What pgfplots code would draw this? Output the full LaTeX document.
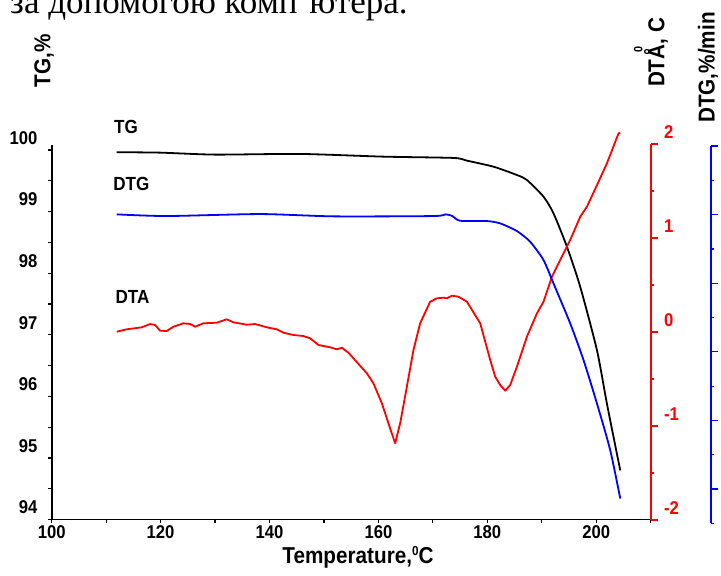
\documentclass[border=0pt]{standalone}
\usepackage{pgfplots}
\pgfplotsset{compat=1.18}
\usepackage{fontspec}
\setmainfont{Liberation Sans}
\newfontfamily\lab[FakeStretch=0.9]{Liberation Sans}
\newfontfamily\ser{Liberation Serif}
\newcommand\tickfont{\lab\bfseries\fontsize{18.5}{18.5}\selectfont}
\newcommand\labfont{\lab\bfseries\fontsize{23}{23}\selectfont}
\newcommand\curvefont{\lab\bfseries\fontsize{19}{19}\selectfont}

\pgfplotstableread{
x y
111.94 99.963
119.90 99.956
130.00 99.924
145.62 99.935
160.92 99.891
173.78 99.870
176.24 99.826
181.13 99.728
185.43 99.593
187.27 99.512
190.32 99.241
192.15 98.971
194.62 98.428
197.06 97.777
200.13 96.748
201.96 95.881
204.41 94.797
}\tgdata

\pgfplotstableread{
x y
111.94 -0.1993
121.13 -0.2042
138.27 -0.1984
151.74 -0.2051
170.11 -0.2042
172.26 -0.1993
173.49 -0.2034
175.01 -0.2180
179.92 -0.2188
182.36 -0.2256
185.43 -0.2480
187.87 -0.2792
190.32 -0.3326
192.15 -0.4006
195.22 -0.5173
197.67 -0.6244
200.13 -0.7507
202.57 -0.8870
204.41 -1.0279
}\dtgdata

\pgfplotstableread{
x y
111.94 0.003
113.78 0.0287
116.54 0.050
118.06 0.0851
118.98 0.0745
119.90 0.0138
121.13 0.0106
122.34 0.0564
124.18 0.0926
125.41 0.0851
126.33 0.0564
127.85 0.0926
130.31 0.0989
132.15 0.1351
133.36 0.1032
135.83 0.0777
137.35 0.0851
139.50 0.050
141.34 0.0287
142.55 -0.0074
144.39 -0.0319
146.22 -0.0426
147.46 -0.0670
148.98 -0.1383
151.13 -0.1628
152.36 -0.1840
153.28 -0.1670
154.49 -0.2202
155.41 -0.2798
157.87 -0.4394
159.08 -0.5457
160.63 -0.7585
161.84 -0.9713
163.07 -1.1840
163.99 -0.9713
165.22 -0.5819
166.43 -0.1915
167.66 0.0926
169.50 0.3223
170.73 0.3585
171.94 0.3649
172.57 0.3585
173.49 0.3862
174.70 0.3755
176.24 0.3223
178.69 0.0926
180.53 -0.2979
181.44 -0.4755
182.36 -0.5638
183.28 -0.6245
184.20 -0.5638
185.43 -0.3691
187.27 -0.0500
189.11 0.1989
190.32 0.3223
191.86 0.5883
193.99 0.8372
195.22 0.9787
197.06 1.2266
198.29 1.3330
200.42 1.5989
201.96 1.7947
204.10 2.1138
204.41 2.1202
}\dtadata

\begin{document}
\begin{tikzpicture}[x=1pt,y=1pt]
\useasboundingbox (0pt,0pt) rectangle (721pt,-576pt);

% heading text from the page
\node[anchor=base west, inner sep=0pt, font=\ser\fontsize{35}{35}\selectfont] at (10pt,-13.3pt) {за допомогою комп’ютера.};

% TG axis (left)
\begin{axis}[
  at={(51.7pt,-519.5pt)}, anchor=south west, scale only axis,
  width=599pt, height=374.5pt,
  xmin=100, xmax=210, ymin=94, ymax=100.08,
  axis x line*=bottom, axis y line*=left,
  axis line style={black, line width=1.7pt, -},
  xtick={100,120,140,160,180,200}, minor xtick={110,130,150,170,190,210},
  xticklabels={100,120,140,160,180,200},
  ytick={94,95,96,97,98,99,100}, minor ytick={94.5,95.5,96.5,97.5,98.5,99.5},
  yticklabels={94,95,96,97,98,99,100},
  tick align=outside, major tick length=3.5pt, minor tick length=3.5pt,
  every tick/.style={black, line width=1.2pt},
  xticklabel style={font=\tickfont, inner sep=0pt, anchor=north, yshift=-2.5pt},
  yticklabel style={font=\tickfont, inner sep=0pt, anchor=east, yshift=12pt, xshift=-10.7pt},
  clip=false,
]
\addplot[black, line width=1.8pt, smooth, tension=0.4, line join=round] table[x=x,y=y] {\tgdata};
\end{axis}

% DTA axis (red)
\begin{axis}[
  at={(51.7pt,-520pt)}, anchor=south west, scale only axis,
  width=599pt, height=376pt,
  xmin=100, xmax=210, ymin=-2, ymax=2,
  hide x axis, axis y line*=right,
  y axis line style={red, line width=1.7pt, -},
  ytick={-2,-1,0,1,2}, minor ytick={-1.5,-0.5,0.5,1.5},
  yticklabels={-2,-1,0,1,2},
  tick align=outside, major tick length=7.5pt, minor tick length=3.5pt,
  every tick/.style={red, line width=1.2pt},
  yticklabel style={font=\tickfont, text=red, inner sep=0pt, anchor=west, yshift=11.5pt, xshift=5.8pt},
  clip=false,
]
\addplot[red, line width=1.8pt, line join=round] table[x=x,y=y] {\dtadata};
\end{axis}

% DTG axis (blue)
\begin{axis}[
  at={(51.7pt,-523.3pt)}, anchor=south west, scale only axis,
  width=659pt, height=377.3pt,
  xmin=100, xmax=221.02, ymin=-1.1, ymax=0,
  hide x axis, axis y line*=right,
  y axis line style={blue, line width=1.7pt, -},
  ytick={0,-0.2,-0.4,-0.6,-0.8,-1.0}, minor ytick={-0.1,-0.3,-0.5,-0.7,-0.9,-1.1},
  yticklabels={},
  tick align=outside, major tick length=7pt, minor tick length=3.3pt,
  every tick/.style={blue, line width=1.2pt},
  clip=false,
]
\addplot[blue, line width=1.8pt, smooth, tension=0.4, line join=round] table[x=x,y=y] {\dtgdata};
\end{axis}

% curve labels
\node[font=\curvefont, inner sep=0pt] at (126pt,-126.7pt) {TG};
\node[font=\curvefont, inner sep=0pt] at (131.3pt,-183.7pt) {DTG};
\node[font=\curvefont, inner sep=0pt] at (132.5pt,-297pt) {DTA};

% axis labels
\node[font=\labfont, inner sep=0pt, rotate=90] at (44pt,-61pt) {TG,\%};
\node[font=\labfont, inner sep=0pt, rotate=90] at (651pt,-52.5pt) {DTÅ\llap{\raisebox{0.95em}{\fontsize{12}{12}\selectfont 0\,}}, C};
\node[font=\labfont, inner sep=0pt, rotate=90] at (708pt,-67.5pt) {DTG,\%/min};
\node[font=\labfont, inner sep=0pt] at (358pt,-557pt) {Temperature,\raisebox{0.35em}{\fontsize{13}{13}\selectfont 0}C};
\end{tikzpicture}
\end{document}
